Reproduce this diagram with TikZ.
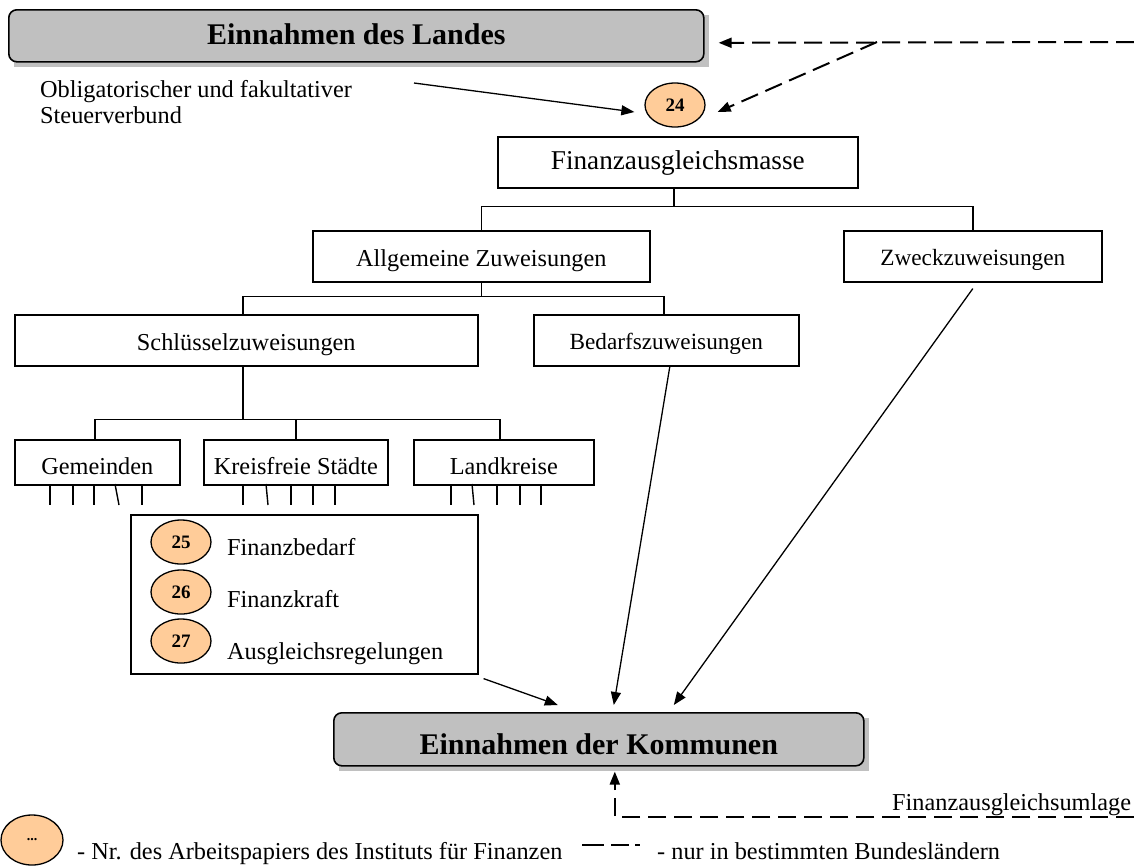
\documentclass[tikz,border=0pt]{standalone}
\usepackage{fontspec}
\setmainfont{Liberation Serif}
\usetikzlibrary{arrows.meta,shapes.geometric}
\definecolor{boxgray}{HTML}{C0C0C0}
\definecolor{peach}{HTML}{FFCC99}
\begin{document}
\begin{tikzpicture}[x=1pt,y=-1pt,
  every node/.style={font=\fontsize{24.3}{28}\selectfont},
  tbox/.style={draw, line width=1.6pt, inner sep=0pt, anchor=north west},
  titlebox/.style={draw, line width=1.6pt, inner sep=0pt, anchor=north west, fill=boxgray, rounded corners=8pt, font=\fontsize{30}{34}\selectfont\bfseries},
  numell/.style={ellipse, draw, line width=1.3pt, fill=peach, minimum width=60pt, minimum height=44pt, inner sep=0pt, font=\fontsize{19}{19}\selectfont\bfseries},
  tree/.style={line width=1.6pt},
  tick/.style={line width=1.4pt},
  arr/.style={line width=1.3pt, -{Triangle[length=13pt,width=10pt]}},
  darr/.style={line width=2pt, dash pattern=on 18pt off 8pt, -{Triangle[length=13pt,width=10pt]}},
  dline/.style={line width=2pt, dash pattern=on 22pt off 7pt on 18pt off 6pt}
]
\useasboundingbox (0,0) rectangle (1134,865);

% shadows
\fill[boxgray] (14,15) rectangle (709,67);
\fill[boxgray] (339,718) rectangle (869,771);

% title boxes
\node[titlebox, minimum width=695pt, text height=35pt, text depth=17pt] (landes) at (8,9) {Einnahmen des Landes};
\node[titlebox, minimum width=530pt, text height=42pt, text depth=11pt] (kom) at (333,712) {Einnahmen der Kommunen};

% tree boxes
\node[tbox, minimum width=360pt, text height=33pt, text depth=18pt, font=\fontsize{27.2}{30}\selectfont] (fam) at (497,136) {Finanzausgleichsmasse};
\node[tbox, minimum width=337pt, text height=36pt, text depth=15pt] (allg) at (312,230) {Allgemeine Zuweisungen};
\node[tbox, minimum width=258pt, text height=35pt, text depth=16pt, font=\fontsize{23.3}{27}\selectfont] (zweck) at (843,230) {Zweckzuweisungen};
\node[tbox, minimum width=463pt, text height=36pt, text depth=15pt] (schl) at (14,314) {Schlüsselzuweisungen};
\node[tbox, minimum width=265pt, text height=35pt, text depth=16pt, font=\fontsize{23.2}{27}\selectfont] (bedarf) at (533,314) {Bedarfszuweisungen};
\node[tbox, minimum width=165pt, text height=35pt, text depth=10pt] (gem) at (14,439) {Gemeinden};
\node[tbox, minimum width=184pt, text height=35pt, text depth=10pt] (kreis) at (203,439) {Kreisfreie Städte};
\node[tbox, minimum width=180pt, text height=35pt, text depth=10pt] (land) at (413,439) {Landkreise};

% criteria box
\node[draw, line width=1.6pt, inner sep=0pt, anchor=north west, minimum width=347pt, minimum height=159pt] (crit) at (130,514) {};
\node[numell] (n25) at (181,542) {25};
\node[numell] (n26) at (181,592) {26};
\node[numell] (n27) at (181,641) {27};
\node[anchor=base west, inner sep=0pt] (t25) at (227,555) {Finanzbedarf};
\node[anchor=base west, inner sep=0pt] (t26) at (227,607) {Finanzkraft};
\node[anchor=base west, inner sep=0pt] (t27) at (227,659) {Ausgleichsregelungen};

% number 24 and text
\node[numell] (n24) at (675,105) {24};
\node[anchor=base west, inner sep=0pt] (obl1) at (40,97) {Obligatorischer und fakultativer};
\node[anchor=base west, inner sep=0pt] (obl2) at (40,123) {Steuerverbund};

% tree connectors
\draw[tree] ([xshift=-4pt]fam.south) -- ++(0,18) coordinate (j1);
\draw[tree] (allg.north) |- (j1) -| (zweck.north);
\draw[tree] (allg.south) -- ++(0,14) coordinate (j2);
\draw[tree] ([xshift=-3.5pt]schl.north) |- (j2) -| ([xshift=-2.5pt]bedarf.north);
\draw[tree, line width=2.4pt] ([xshift=-3.5pt]schl.south) -- ++(0,53) coordinate (j3);
\draw[tree] ([xshift=-2.5pt]gem.north) |- (j3) -| ([xshift=-4pt]land.north);
\draw[tree] (kreis.north) -- (kreis.north |- j3);

% ticks
\foreach \x in {50,73,94,142,243,291,313,335,451,497,520,541}
  \draw[tick] (\x,484) -- (\x,505);
\draw[tick] (115,484) -- (119,505);
\draw[tick] (266,484) -- (268,505);
\draw[tick] (472,484) -- (474,505);

% arrows
\coordinate (oblstart) at (414,83);
\draw[arr] (oblstart) -- ([xshift=-10pt,yshift=-7pt]n24.west);
\coordinate (rt) at (1134,42);
\coordinate (fork) at (877,42);
\draw[darr] (rt) -- ([xshift=14pt,yshift=-7pt]landes.east);
\draw[darr] (fork) -- ([xshift=12pt,yshift=-7pt]n24.east);

\draw[arr] ([xshift=5pt,yshift=-4pt]crit.south east) -- ([xshift=-41pt,yshift=7pt]kom.north);
\draw[arr] ([xshift=3.5pt]bedarf.south) -- ([xshift=15pt,yshift=7pt]kom.north);
\draw[arr] ([yshift=-6pt]zweck.south) -- ([xshift=75pt,yshift=7pt]kom.north);

\coordinate (rb) at (1134,817);
\draw[darr] (rb) -| ([xshift=16pt,yshift=-5pt]kom.south);
\node[anchor=base west, inner sep=0pt] (umlage) at (892,810) {Finanzausgleichsumlage};

% legend
\node[numell, minimum width=62pt, minimum height=50pt, font=\fontsize{14}{14}\selectfont\bfseries] (nleg) at (32,840) {...};
\node[anchor=base west, inner sep=0pt] (leg1) at (77,859) {- Nr. des Arbeitspapiers des Instituts für Finanzen};
\coordinate (ld1) at (582,845);
\coordinate (ld2) at (640,845);
\draw[dline] (ld1) -- (ld2);
\node[anchor=base west, inner sep=0pt] (leg2) at (657,859) {- nur in bestimmten Bundesländern};
\end{tikzpicture}
\end{document}
